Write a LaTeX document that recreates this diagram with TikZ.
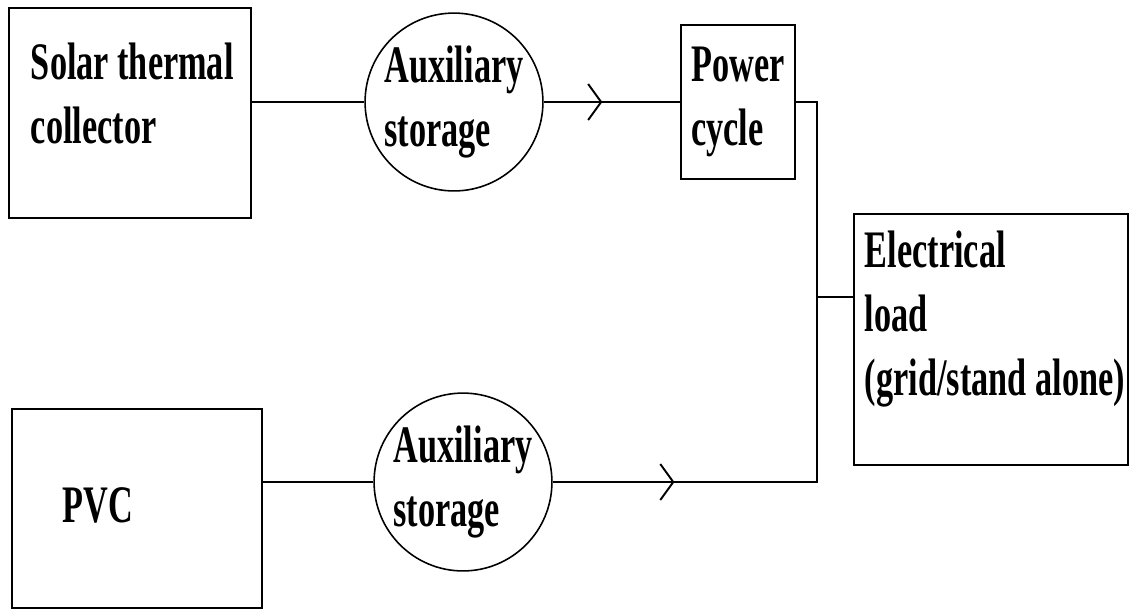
\documentclass[tikz,border=0pt]{standalone}
\usepackage{fontspec}
\newfontfamily\diagfont[FakeStretch=0.65]{Liberation Serif}
\usetikzlibrary{decorations.markings,arrows.meta}

\begin{document}
\begin{tikzpicture}[x=0.02cm, y=-0.02cm, line width=1.1pt,
    font=\diagfont\bfseries\fontsize{30}{36.3}\selectfont,
    box/.style={draw, rectangle, inner sep=0pt},
    store/.style={draw, circle, line width=0.9pt, minimum size=3.52cm,
      inner sep=0pt, align=left},
    txt/.style={inner sep=0pt, align=left},
    midarrow/.style={postaction={decorate}, decoration={markings,
      mark=at position #1 with {\arrow{Straight Barb[length=0.26cm, width=0.72cm]}}}}]
    \useasboundingbox (0,0) rectangle (1131,610);
    % sources
    \node[box, minimum width=4.84cm, minimum height=4.2cm] (solar) at (130,113) {};
    \node[txt, anchor=north west] at (30,42) {Solar thermal\\collector};
    \node[box, minimum width=5cm, minimum height=3.98cm] (pvc) at (137,508.5) {};
    \node[txt, anchor=base west] at (62,522) {PVC};
    % storages
    \node[store] (aux1) at (454,102) {Auxiliary\\storage};
    \node[store] (aux2) at (463,482) {Auxiliary\\storage};
    % power cycle and load
    \node[box, minimum width=2.28cm, minimum height=3.08cm, align=left] (power)
      at (738,102) {Power\\cycle};
    \node[box, minimum width=5.48cm, minimum height=5.02cm] (load) at (991,339.5) {};
    \node[txt, anchor=north west] at (864,230) {Electrical\\load\\(grid/stand alone)};
    % connections
    \coordinate (bus) at (817,297);
    \draw (solar.east |- aux1) -- (aux1.west);
    \draw[midarrow=0.43] (aux1.east) -- (power.west);
    \draw (pvc.east |- aux2) -- (aux2.west);
    \draw[midarrow=0.183] (aux2.east) -- (aux2 -| bus) |- (power.east);
    \draw (bus) -- (bus -| load.west);
\end{tikzpicture}
\end{document}
